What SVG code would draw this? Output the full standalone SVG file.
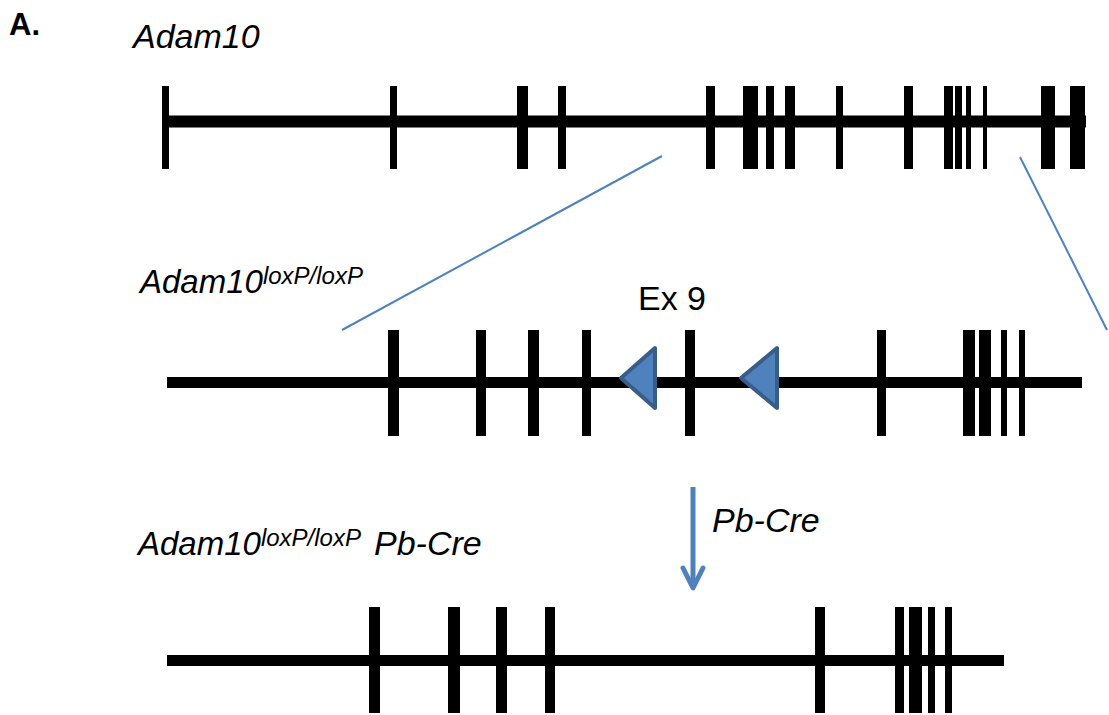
<svg xmlns="http://www.w3.org/2000/svg" width="1109" height="715" viewBox="0 0 1109 715">
<style>
  .bar{fill:#000}
  .lbl{font-family:"Liberation Sans",Arial,sans-serif;fill:#000}
  .it{font-style:italic}
  .zoom{stroke:#4f81bd;stroke-width:2;fill:none}
  .lox{fill:#4f81bd;stroke:#385d8a;stroke-width:4;stroke-linejoin:round}
  .arr{stroke:#4f81bd;stroke-width:5;fill:none}
</style>
<rect width="1109" height="715" fill="#fff"/>
<text id="label-A" class="lbl" x="9" y="35" font-size="31" font-weight="bold">A.</text>

<g id="gene-wt">
  <text class="lbl it" x="133" y="48" font-size="34">Adam10</text>
  <rect class="bar" x="162" y="115.5" width="924" height="12"/>
  <rect class="bar" x="162" y="86" width="7" height="83"/>
  <rect class="bar" x="390" y="86" width="7" height="83"/>
  <rect class="bar" x="517" y="86" width="11" height="83"/>
  <rect class="bar" x="558" y="86" width="8" height="83"/>
  <rect class="bar" x="706" y="86" width="9" height="83"/>
  <rect class="bar" x="743" y="86" width="15" height="83"/>
  <rect class="bar" x="766" y="86" width="8" height="83"/>
  <rect class="bar" x="785" y="86" width="10" height="83"/>
  <rect class="bar" x="836" y="86" width="7" height="83"/>
  <rect class="bar" x="904" y="86" width="9" height="83"/>
  <rect class="bar" x="944" y="86" width="9" height="83"/>
  <rect class="bar" x="955" y="86" width="7" height="83"/>
  <rect class="bar" x="966" y="86" width="5" height="83"/>
  <rect class="bar" x="983" y="86" width="4" height="83"/>
  <rect class="bar" x="1041" y="86" width="14" height="83"/>
  <rect class="bar" x="1070" y="86" width="15" height="83"/>
</g>

<g id="gene-flox">
  <text class="lbl it" x="140" y="293" font-size="33">Adam10<tspan font-size="24" dy="-9">loxP/loxP</tspan></text>
  <text class="lbl" x="638" y="310" font-size="34">Ex 9</text>
  <rect class="bar" x="167" y="377" width="915" height="11"/>
  <rect class="bar" x="388" y="330" width="11" height="106"/>
  <rect class="bar" x="476" y="330" width="10" height="106"/>
  <rect class="bar" x="528" y="330" width="11" height="106"/>
  <rect class="bar" x="582" y="330" width="9" height="106"/>
  <rect class="bar" x="685" y="330" width="10" height="106"/>
  <rect class="bar" x="877" y="330" width="9" height="106"/>
  <rect class="bar" x="963" y="330" width="12" height="106"/>
  <rect class="bar" x="979" y="330" width="12" height="106"/>
  <rect class="bar" x="1001" y="330" width="6" height="106"/>
  <rect class="bar" x="1019" y="330" width="6" height="106"/>
  <polygon class="lox" points="621,378 655,348 655,408"/>
  <polygon class="lox" points="741,378 777,348 777,408"/>
</g>

<g id="gene-del">
  <text class="lbl it" x="138" y="555" font-size="33">Adam10<tspan font-size="24" dy="-9">loxP/loxP</tspan></text>
  <text class="lbl it" x="374" y="555" font-size="34">Pb-Cre</text>
  <rect class="bar" x="167" y="655" width="837" height="11"/>
  <rect class="bar" x="369" y="607" width="11" height="106"/>
  <rect class="bar" x="448" y="607" width="12" height="106"/>
  <rect class="bar" x="496" y="607" width="11" height="106"/>
  <rect class="bar" x="545" y="607" width="10" height="106"/>
  <rect class="bar" x="815" y="607" width="10" height="106"/>
  <rect class="bar" x="895" y="607" width="9" height="106"/>
  <rect class="bar" x="909" y="607" width="13" height="106"/>
  <rect class="bar" x="928" y="607" width="7" height="106"/>
  <rect class="bar" x="945" y="607" width="7" height="106"/>
</g>

<g id="connectors">
  <line class="zoom" x1="662" y1="156" x2="342" y2="330"/>
  <line class="zoom" x1="1020" y1="157" x2="1107" y2="330"/>
  <line class="arr" x1="693" y1="487" x2="693" y2="586"/>
  <polyline class="arr" points="683,568 693,588 703,568" stroke-linecap="round" stroke-linejoin="round"/>
  <text class="lbl it" x="712" y="532" font-size="34">Pb-Cre</text>
</g>
</svg>
